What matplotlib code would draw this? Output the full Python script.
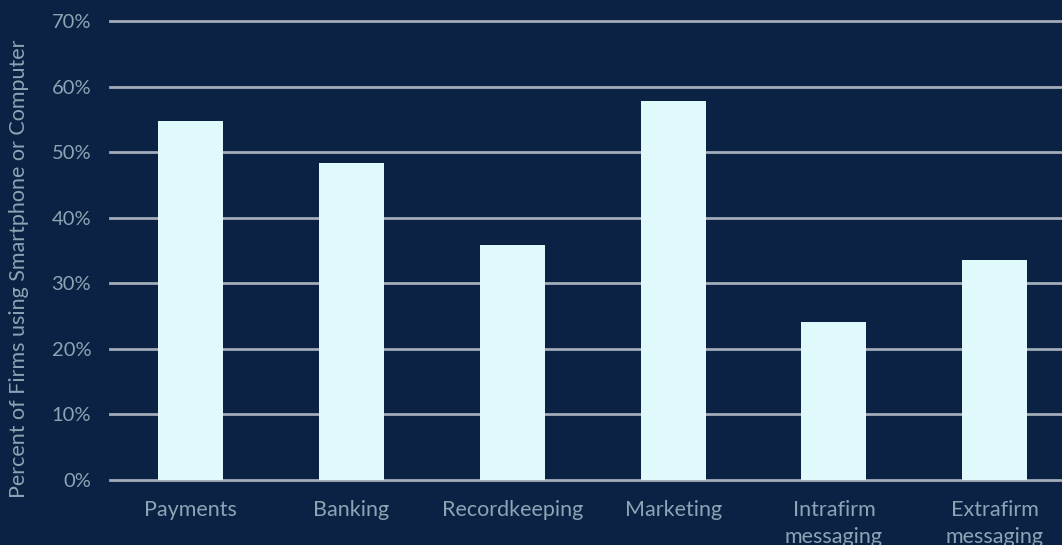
import matplotlib
matplotlib.use("Agg")
import matplotlib.pyplot as plt
from matplotlib.ticker import FuncFormatter

categories = ["Payments", "Banking", "Recordkeeping", "Marketing",
              "Intrafirm\nmessaging", "Extrafirm\nmessaging"]
shares = [54.7, 48.3, 35.8, 57.8, 24.1, 33.6]
y_ticks = [0, 10, 20, 30, 40, 50, 60, 70]

bg = "#0c2244"
bar_color = "#e0fafc"
grid_color = "#a3adb9"
text_color = "#8ea4b4"

plt.rcParams["font.family"] = ["Lato", "DejaVu Sans"]

fig = plt.figure(figsize=(10.62, 5.45), dpi=100, facecolor=bg)
ax = fig.add_axes([110 / 1062, 65 / 545, 952 / 1062, 459 / 545], facecolor=bg)

x = range(len(categories))
ax.bar(x, shares, width=0.404, color=bar_color, zorder=3)

ax.set_ylim(0, 70)
ax.set_xlim(-0.502, 5.418)
ax.set_yticks(y_ticks)
ax.yaxis.set_major_formatter(FuncFormatter(lambda v, p: f"{v:.0f}%"))
ax.set_xticks(list(x))
ax.set_xticklabels(categories, linespacing=1.4)

ax.yaxis.grid(True, color=grid_color, linewidth=2, zorder=0)
ax.set_axisbelow(True)
for line in ax.get_ygridlines():
    line.set_clip_on(False)

for s in ax.spines.values():
    s.set_visible(False)
ax.tick_params(axis="both", length=0, colors=text_color)
ax.tick_params(axis="y", pad=13.5, labelsize=14.5)
ax.tick_params(axis="x", pad=14.5, labelsize=15.5)

fig.text(19 / 1062, 276 / 545, "Percent of Firms using Smartphone or Computer",
         rotation=90, ha="center", va="center", color=text_color, fontsize=15.5)

fig.savefig("out.png", dpi=100, facecolor=bg)
